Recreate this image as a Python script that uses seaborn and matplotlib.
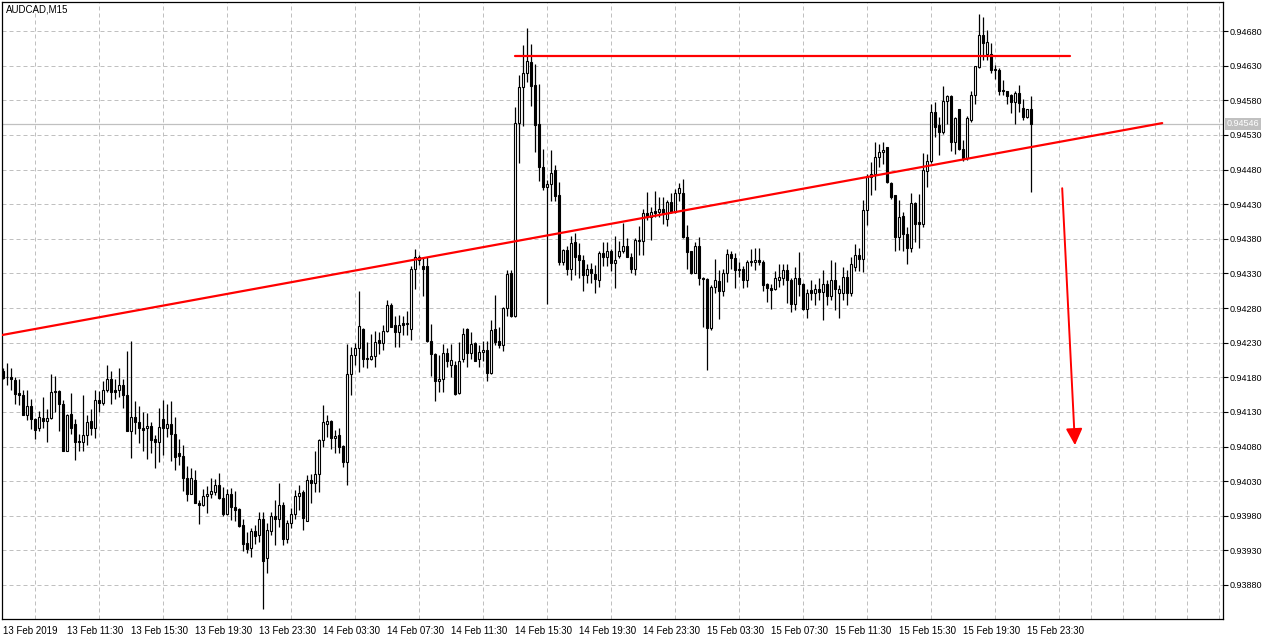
import numpy as np
import pandas as pd
import seaborn as sns
import matplotlib.pyplot as plt

# chart title and first bar time (M15 bars)
symbol = "AUDCAD,M15"
start_time = "2019-02-13 07:30"

opens = [
    0.94189, 0.94180, 0.94180, 0.94176, 0.94157, 0.94154, 0.94126, 0.94138, 0.94120, 0.94106,
    0.94121, 0.94117, 0.94121, 0.94160, 0.94160, 0.94141, 0.94074, 0.94127, 0.94112, 0.94088,
    0.94087, 0.94097, 0.94117, 0.94106, 0.94147, 0.94143, 0.94161, 0.94177, 0.94162, 0.94161,
    0.94169, 0.94155, 0.94103, 0.94123, 0.94115, 0.94106, 0.94106, 0.94110, 0.94091, 0.94086,
    0.94120, 0.94106, 0.94112, 0.94098, 0.94070, 0.94066, 0.94034, 0.94012, 0.94032, 0.93999,
    0.93995, 0.94008, 0.94011, 0.94015, 0.94024, 0.94005, 0.93983, 0.94011, 0.93993, 0.93990,
    0.93966, 0.93940, 0.93933, 0.93958, 0.93952,
    0.93975, 0.93919, 0.93958, 0.93980, 0.93975, 0.93996, 0.93946, 0.93969, 0.93982, 0.94008,
    0.94015, 0.93973, 0.94031, 0.94028, 0.94041, 0.94090, 0.94113, 0.94117, 0.94092, 0.94097,
    0.94081, 0.94057, 0.94184, 0.94212, 0.94222, 0.94249, 0.94208, 0.94207, 0.94210, 0.94234,
    0.94230, 0.94247, 0.94284, 0.94255, 0.94246, 0.94258, 0.94257, 0.94249, 0.94336, 0.94349,
    0.94340, 0.94340, 0.94233, 0.94214, 0.94174, 0.94178, 0.94215, 0.94198, 0.94198, 0.94157,
    0.94206, 0.94249, 0.94215, 0.94229, 0.94207, 0.94216, 0.94220, 0.94186, 0.94250, 0.94232, 0.94226, 0.94280,
    0.94330, 0.94268, 0.94547, 0.94599, 0.94619, 0.94635, 0.94602, 0.94546, 0.94484, 0.94455,
    0.94459, 0.94479, 0.94443, 0.94347, 0.94364, 0.94337, 0.94376, 0.94357, 0.94349, 0.94328,
    0.94337, 0.94329, 0.94321, 0.94360, 0.94354, 0.94362, 0.94345, 0.94355, 0.94362, 0.94370,
    0.94354, 0.94337, 0.94377, 0.94377, 0.94417, 0.94412, 0.94420, 0.94418, 0.94423, 0.94408,
    0.94433, 0.94419, 0.94446, 0.94446, 0.94382, 0.94362, 0.94331, 0.94370, 0.94324, 0.94322,
    0.94251, 0.94311, 0.94319, 0.94304, 0.94330, 0.94358, 0.94352, 0.94335, 0.94336, 0.94321,
    0.94346, 0.94347, 0.94350, 0.94347, 0.94314,
    0.94309, 0.94308, 0.94321, 0.94324, 0.94335, 0.94321, 0.94286, 0.94323, 0.94315, 0.94279,
    0.94306, 0.94302, 0.94308, 0.94303, 0.94314, 0.94298, 0.94320, 0.94302, 0.94302, 0.94325,
    0.94302, 0.94339, 0.94357, 0.94351, 0.94421, 0.94469, 0.94474, 0.94498, 0.94505, 0.94512,
    0.94461, 0.94443, 0.94383, 0.94413, 0.94387, 0.94367, 0.94432, 0.94404, 0.94402, 0.94478,
    0.94492, 0.94563, 0.94544, 0.94534, 0.94579, 0.94586, 0.94520, 0.94567, 0.94510, 0.94496,
    0.94552, 0.94588, 0.94628, 0.94674, 0.94647, 0.94647, 0.94625, 0.94624, 0.94595, 0.94593,
    0.94587, 0.94578, 0.94590, 0.94569, 0.94556, 0.94567,
]
highs = [
    0.94193, 0.94200, 0.94194, 0.94181, 0.94178, 0.94162, 0.94162, 0.94149, 0.94121, 0.94131,
    0.94151, 0.94134, 0.94185, 0.94182, 0.94162, 0.94147, 0.94127, 0.94157, 0.94120, 0.94098,
    0.94155, 0.94125, 0.94134, 0.94162, 0.94160, 0.94174, 0.94198, 0.94189, 0.94178, 0.94193,
    0.94177, 0.94218, 0.94232, 0.94145, 0.94139, 0.94130, 0.94128, 0.94116, 0.94097, 0.94136,
    0.94147, 0.94141, 0.94146, 0.94123, 0.94091, 0.94082, 0.94052, 0.94049, 0.94046, 0.94003,
    0.94019, 0.94023, 0.94034, 0.94033, 0.94042, 0.94021, 0.94019, 0.94020, 0.94016, 0.93991,
    0.93976, 0.93957, 0.93963, 0.93967, 0.93985,
    0.93986, 0.93969, 0.93985, 0.94003, 0.94027, 0.94000, 0.93974, 0.93991, 0.94017, 0.94024,
    0.94017, 0.94039, 0.94040, 0.94074, 0.94091, 0.94140, 0.94126, 0.94118, 0.94104, 0.94107,
    0.94082, 0.94228, 0.94224, 0.94230, 0.94304, 0.94251, 0.94231, 0.94243, 0.94247, 0.94246,
    0.94255, 0.94292, 0.94287, 0.94269, 0.94270, 0.94269, 0.94275, 0.94340, 0.94365, 0.94356,
    0.94354, 0.94354, 0.94257, 0.94215, 0.94212, 0.94228, 0.94222, 0.94228, 0.94203, 0.94231,
    0.94251, 0.94251, 0.94245, 0.94231, 0.94227, 0.94232, 0.94232, 0.94263, 0.94299, 0.94253, 0.94282, 0.94335,
    0.94335, 0.94570, 0.94617, 0.94660, 0.94684, 0.94661, 0.94633, 0.94604, 0.94509, 0.94465,
    0.94508, 0.94486, 0.94462, 0.94365, 0.94370, 0.94384, 0.94388, 0.94374, 0.94357, 0.94343,
    0.94345, 0.94342, 0.94362, 0.94376, 0.94376, 0.94365, 0.94384, 0.94377, 0.94403, 0.94381,
    0.94359, 0.94381, 0.94398, 0.94423, 0.94448, 0.94426, 0.94449, 0.94441, 0.94441, 0.94436,
    0.94446, 0.94452, 0.94460, 0.94467, 0.94400, 0.94363, 0.94376, 0.94383, 0.94325, 0.94323,
    0.94313, 0.94351, 0.94335, 0.94337, 0.94365, 0.94363, 0.94359, 0.94347, 0.94340, 0.94349,
    0.94365, 0.94366, 0.94366, 0.94349, 0.94316,
    0.94315, 0.94334, 0.94344, 0.94344, 0.94344, 0.94324, 0.94339, 0.94361, 0.94316, 0.94308,
    0.94321, 0.94315, 0.94323, 0.94335, 0.94321, 0.94349, 0.94346, 0.94313, 0.94339, 0.94335,
    0.94354, 0.94373, 0.94366, 0.94436, 0.94473, 0.94491, 0.94520, 0.94517, 0.94520, 0.94513,
    0.94462, 0.94443, 0.94436, 0.94419, 0.94397, 0.94446, 0.94433, 0.94445, 0.94504, 0.94503,
    0.94574, 0.94578, 0.94556, 0.94600, 0.94587, 0.94587, 0.94556, 0.94568, 0.94522, 0.94557,
    0.94594, 0.94629, 0.94704, 0.94700, 0.94681, 0.94663, 0.94631, 0.94627, 0.94609, 0.94594,
    0.94589, 0.94594, 0.94602, 0.94582, 0.94568, 0.94586,
]
lows = [
    0.94178, 0.94169, 0.94162, 0.94142, 0.94140, 0.94125, 0.94118, 0.94105, 0.94091, 0.94102,
    0.94106, 0.94087, 0.94120, 0.94130, 0.94102, 0.94074, 0.94074, 0.94098, 0.94060, 0.94073,
    0.94073, 0.94082, 0.94097, 0.94093, 0.94130, 0.94140, 0.94159, 0.94142, 0.94148, 0.94152,
    0.94135, 0.94103, 0.94063, 0.94098, 0.94085, 0.94073, 0.94062, 0.94070, 0.94049, 0.94058,
    0.94068, 0.94094, 0.94059, 0.94046, 0.94053, 0.94016, 0.94002, 0.94011, 0.93998, 0.93968,
    0.93994, 0.93984, 0.94006, 0.94010, 0.94004, 0.93980, 0.93981, 0.93974, 0.93973, 0.93964,
    0.93929, 0.93926, 0.93921, 0.93939, 0.93942,
    0.93846, 0.93897, 0.93952, 0.93938, 0.93964, 0.93938, 0.93940, 0.93962, 0.93976, 0.93988,
    0.93959, 0.93972, 0.93998, 0.94014, 0.94014, 0.94080, 0.94094, 0.94077, 0.94070, 0.94070,
    0.94051, 0.94025, 0.94155, 0.94198, 0.94187, 0.94195, 0.94194, 0.94205, 0.94195, 0.94214,
    0.94220, 0.94245, 0.94252, 0.94224, 0.94224, 0.94241, 0.94241, 0.94234, 0.94308, 0.94342,
    0.94298, 0.94231, 0.94182, 0.94146, 0.94159, 0.94158, 0.94195, 0.94181, 0.94154, 0.94156,
    0.94202, 0.94195, 0.94207, 0.94203, 0.94195, 0.94203, 0.94174, 0.94185, 0.94227, 0.94222, 0.94218, 0.94269,
    0.94267, 0.94267, 0.94490, 0.94543, 0.94606, 0.94571, 0.94505, 0.94463, 0.94451, 0.94286,
    0.94434, 0.94434, 0.94342, 0.94342, 0.94328, 0.94320, 0.94328, 0.94323, 0.94305, 0.94316,
    0.94316, 0.94301, 0.94311, 0.94340, 0.94341, 0.94333, 0.94309, 0.94352, 0.94359, 0.94353,
    0.94330, 0.94328, 0.94357, 0.94357, 0.94407, 0.94378, 0.94412, 0.94412, 0.94402, 0.94399,
    0.94417, 0.94417, 0.94434, 0.94381, 0.94337, 0.94329, 0.94330, 0.94313, 0.94253, 0.94191,
    0.94248, 0.94301, 0.94264, 0.94297, 0.94318, 0.94337, 0.94309, 0.94325, 0.94309, 0.94311,
    0.94341, 0.94335, 0.94342, 0.94304, 0.94288,
    0.94279, 0.94306, 0.94311, 0.94313, 0.94287, 0.94274, 0.94277, 0.94298, 0.94277, 0.94266,
    0.94292, 0.94284, 0.94291, 0.94262, 0.94284, 0.94291, 0.94277, 0.94266, 0.94291, 0.94284,
    0.94298, 0.94333, 0.94334, 0.94332, 0.94400, 0.94443, 0.94450, 0.94484, 0.94488, 0.94461,
    0.94438, 0.94363, 0.94364, 0.94363, 0.94343, 0.94361, 0.94375, 0.94367, 0.94397, 0.94455,
    0.94489, 0.94527, 0.94501, 0.94532, 0.94546, 0.94507, 0.94502, 0.94508, 0.94492, 0.94494,
    0.94549, 0.94575, 0.94627, 0.94638, 0.94638, 0.94619, 0.94611, 0.94587, 0.94587, 0.94574,
    0.94562, 0.94546, 0.94563, 0.94551, 0.94554, 0.94448,
]
closes = [
    0.94179, 0.94181, 0.94177, 0.94156, 0.94154, 0.94126, 0.94139, 0.94119, 0.94104, 0.94122,
    0.94117, 0.94121, 0.94158, 0.94158, 0.94141, 0.94074, 0.94125, 0.94106, 0.94086, 0.94086,
    0.94097, 0.94115, 0.94106, 0.94147, 0.94143, 0.94161, 0.94177, 0.94159, 0.94159, 0.94169,
    0.94155, 0.94103, 0.94123, 0.94115, 0.94106, 0.94104, 0.94110, 0.94090, 0.94086, 0.94108,
    0.94106, 0.94112, 0.94098, 0.94065, 0.94067, 0.94034, 0.94012, 0.94035, 0.93999, 0.93995,
    0.94008, 0.94011, 0.94016, 0.94024, 0.94005, 0.93983, 0.94012, 0.93992, 0.93989, 0.93965,
    0.93939, 0.93932, 0.93958, 0.93951, 0.93975,
    0.93914, 0.93959, 0.93980, 0.93975, 0.93996, 0.93947, 0.93969, 0.93982, 0.94008, 0.94013,
    0.93977, 0.94031, 0.94028, 0.94041, 0.94090, 0.94115, 0.94117, 0.94092, 0.94095, 0.94080,
    0.94057, 0.94185, 0.94212, 0.94222, 0.94254, 0.94207, 0.94207, 0.94211, 0.94231, 0.94230,
    0.94247, 0.94285, 0.94253, 0.94245, 0.94256, 0.94256, 0.94258, 0.94337, 0.94353, 0.94353,
    0.94337, 0.94233, 0.94213, 0.94174, 0.94178, 0.94215, 0.94204, 0.94205, 0.94156, 0.94203,
    0.94242, 0.94215, 0.94228, 0.94204, 0.94216, 0.94220, 0.94186, 0.94248, 0.94231, 0.94226, 0.94280, 0.94329,
    0.94268, 0.94547, 0.94599, 0.94619, 0.94637, 0.94601, 0.94544, 0.94483, 0.94455, 0.94459,
    0.94475, 0.94442, 0.94346, 0.94364, 0.94337, 0.94374, 0.94354, 0.94349, 0.94328, 0.94337,
    0.94330, 0.94322, 0.94359, 0.94353, 0.94362, 0.94345, 0.94349, 0.94363, 0.94370, 0.94354,
    0.94337, 0.94378, 0.94378, 0.94417, 0.94412, 0.94419, 0.94417, 0.94423, 0.94416, 0.94433,
    0.94419, 0.94446, 0.94453, 0.94382, 0.94361, 0.94330, 0.94369, 0.94323, 0.94322, 0.94251,
    0.94311, 0.94321, 0.94304, 0.94330, 0.94358, 0.94352, 0.94335, 0.94337, 0.94321, 0.94346,
    0.94348, 0.94350, 0.94347, 0.94313, 0.94309,
    0.94306, 0.94323, 0.94325, 0.94335, 0.94321, 0.94286, 0.94323, 0.94315, 0.94279, 0.94301,
    0.94302, 0.94308, 0.94303, 0.94314, 0.94298, 0.94320, 0.94307, 0.94307, 0.94325, 0.94302,
    0.94344, 0.94357, 0.94351, 0.94421, 0.94469, 0.94474, 0.94498, 0.94505, 0.94508, 0.94462,
    0.94440, 0.94383, 0.94412, 0.94387, 0.94367, 0.94432, 0.94402, 0.94402, 0.94479, 0.94492,
    0.94563, 0.94541, 0.94534, 0.94579, 0.94586, 0.94520, 0.94554, 0.94510, 0.94496, 0.94554,
    0.94588, 0.94629, 0.94674, 0.94663, 0.94664, 0.94624, 0.94623, 0.94594, 0.94593, 0.94586,
    0.94578, 0.94590, 0.94576, 0.94556, 0.94567, 0.94546,
]

# drawn analysis: bar index / price pairs
resistance_x = [127.9, 266.7]
resistance_y = [0.94644, 0.94644]
trend_x = [-0.3, 289.7]
trend_y = [0.94241, 0.94547]
arrow_x = [264.7, 267.9]
arrow_y = [0.94453, 0.94082]
price_ticks = [0.93880, 0.93930, 0.93980, 0.94030, 0.94080, 0.94130, 0.94180, 0.94230, 0.94280,
               0.94330, 0.94380, 0.94430, 0.94480, 0.94530, 0.94580, 0.94630, 0.94680]

df = pd.DataFrame({'open': opens, 'high': highs, 'low': lows, 'close': closes})
df['time'] = pd.date_range(start_time, periods=len(df), freq='15min')
df['bar'] = np.arange(len(df))
df['up'] = df['close'] >= df['open']
last_price = df['close'].iloc[-1]

sns.set_style("white")
plt.rcParams['font.family'] = ['Liberation Sans', 'DejaVu Sans']

fig = plt.figure(figsize=(12.76, 6.4), dpi=100)
ax = fig.add_axes([2 / 1276, 21 / 640, 1221 / 1276, 617 / 640])

# grid: dashed grey, vertical every 8 bars, horizontal at each price tick
ax.set_xticks(np.arange(0, 306, 8), minor=True)
ax.set_yticks(price_ticks)
ax.grid(which='minor', axis='x', color='#c0c0c0', linestyle=(0, (4, 3)), linewidth=0.72)
ax.grid(which='major', axis='y', color='#c0c0c0', linestyle=(0, (4, 3)), linewidth=0.72)
ax.set_axisbelow(True)

# current price line
ax.axhline(last_price, color='#c0c0c0', linewidth=0.9, zorder=1)

# candles
ax.vlines(df['bar'], df['low'], df['high'], color='black', linewidth=0.9, zorder=2)
ax.bar(df['bar'], (df['close'] - df['open']).abs(),
       bottom=df[['open', 'close']].min(axis=1), width=0.55,
       color=np.where(df['up'], 'white', 'black'), edgecolor='black',
       linewidth=0.8, zorder=3)

# red trend lines and arrow
sns.lineplot(x=trend_x, y=trend_y, color='red', linewidth=1.6, ax=ax, zorder=4)
sns.lineplot(x=resistance_x, y=resistance_y, color='red', linewidth=1.6, ax=ax, zorder=4)
ax.annotate('', xy=(arrow_x[1], arrow_y[1]), xytext=(arrow_x[0], arrow_y[0]),
            arrowprops=dict(arrowstyle='-|>,head_length=0.5,head_width=0.25', color='red',
                            lw=1.4, mutation_scale=20, shrinkA=0, shrinkB=0), zorder=4)

ax.set_xlim(-0.33, 304.9)
ax.set_ylim(0.938309, 0.947219)

# x labels every 16 bars, left aligned at the tick
tick_bars = df['bar'].iloc[::16].tolist()
tick_labels = [t.strftime('%d %b %H:%M') for t in df['time'].iloc[::16]]
tick_labels[0] = df['time'].iloc[0].strftime('%d %b %Y')
ax.set_xticks(tick_bars)
ax.set_xticklabels(tick_labels, ha='left', family=['Liberation Sans Narrow', 'Liberation Sans'], fontsize=7)

ax.yaxis.tick_right()
ax.set_yticklabels([f'{p:.5f}' for p in price_ticks], fontsize=6.5)
ax.tick_params(axis='y', which='major', direction='out', length=3.5, width=0.8, pad=1.5, colors='black')
ax.tick_params(axis='x', which='major', direction='out', length=4, width=0.8, pad=1, colors='black')
ax.tick_params(axis='x', which='minor', length=0)

for side in ax.spines.values():
    side.set_color('black')
    side.set_linewidth(0.9)

ax.set_xlabel('')
ax.set_ylabel('')

# price tag at right and symbol title
ax.text(1.003, last_price, f'{last_price:.5f}', transform=ax.get_yaxis_transform(),
        ha='left', va='center', fontsize=6.5, color='white', clip_on=False,
        bbox=dict(facecolor='#c0c0c0', edgecolor='none', pad=1.2))
fig.text(6 / 1276, 1 - 4 / 640, symbol, ha='left', va='top', fontsize=7, color='black')

fig.savefig('out.png', dpi=100, facecolor='white')
